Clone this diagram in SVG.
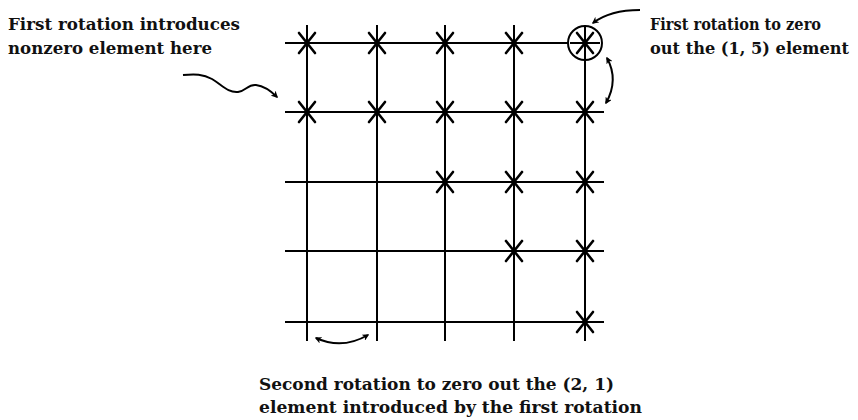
<svg xmlns="http://www.w3.org/2000/svg" width="858" height="420" viewBox="0 0 858 420">
<style>
.g{stroke:#000;stroke-width:2;fill:none}
.x{stroke:#000;stroke-width:2.6;fill:none;stroke-linecap:round}
.a{stroke:#000;stroke-width:2;fill:none}
.t{font-family:"DejaVu Serif","Liberation Serif",serif;font-weight:bold;font-size:17px;fill:#111}
</style>
<defs>
<marker id="ah" viewBox="0 0 10 10" refX="8" refY="5" markerWidth="7" markerHeight="7" orient="auto-start-reverse" markerUnits="userSpaceOnUse">
<path d="M0,0 L10,5 L0,10 L3,5 Z" fill="#000"/>
</marker>
<g id="star"><path class="x" d="M-8,-10 L8,10 M8,-10 L-8,10"/></g>
</defs>
<rect width="858" height="420" fill="#fff"/>
<g id="grid">
<path class="g" d="M285,43 H568 M285,112 H604 M285,182 H604 M285,251 H604 M285,322 H604"/>
<path class="g" d="M307,25 V341 M377,25 V341 M445,25 V341 M514,25 V341 M585,60 V341"/>
</g>
<g id="marks">
<use href="#star" x="307" y="43"/><use href="#star" x="377" y="43"/><use href="#star" x="445" y="43"/><use href="#star" x="514" y="43"/>
<use href="#star" x="307" y="112"/><use href="#star" x="377" y="112"/><use href="#star" x="445" y="112"/><use href="#star" x="514" y="112"/><use href="#star" x="585" y="112"/>
<use href="#star" x="445" y="182"/><use href="#star" x="514" y="182"/><use href="#star" x="585" y="182"/>
<use href="#star" x="514" y="251"/><use href="#star" x="585" y="251"/>
<use href="#star" x="585" y="322"/>
</g>
<g id="circled">
<circle cx="585" cy="43" r="17" class="g"/>
<use href="#star" x="585" y="43"/>
<path class="g" d="M585,26 V60 M570,43 H600"/>
</g>
<g id="connectors">
<path class="a" d="M640,10 Q610,10 593,23" marker-end="url(#ah)"/>
<path class="a" d="M607,58 Q619,80 606,103" marker-start="url(#ah)" marker-end="url(#ah)"/>
<path class="a" d="M316,338 Q342,350 368,335" marker-start="url(#ah)" marker-end="url(#ah)"/>
<path class="a" d="M183,75 C195,74 203,74 212,79 C222,85 228,93 238,92 C246,91 248,84 256,85 C264,86 270,90 277,97" marker-end="url(#ah)"/>
</g>
<g id="label-left">
<text class="t" x="8" y="30" textLength="232" lengthAdjust="spacingAndGlyphs">First rotation introduces</text>
<text class="t" x="8" y="54" textLength="204" lengthAdjust="spacingAndGlyphs">nonzero element here</text>
</g>
<g id="label-right">
<text class="t" x="650" y="30" textLength="171" lengthAdjust="spacingAndGlyphs">First rotation to zero</text>
<text class="t" x="650" y="54" textLength="199" lengthAdjust="spacingAndGlyphs">out the (1, 5) element</text>
</g>
<g id="label-bottom">
<text class="t" x="259" y="390" textLength="355" lengthAdjust="spacingAndGlyphs">Second rotation to zero out the (2, 1)</text>
<text class="t" x="259" y="413" textLength="383" lengthAdjust="spacingAndGlyphs">element introduced by the first rotation</text>
</g>
</svg>
